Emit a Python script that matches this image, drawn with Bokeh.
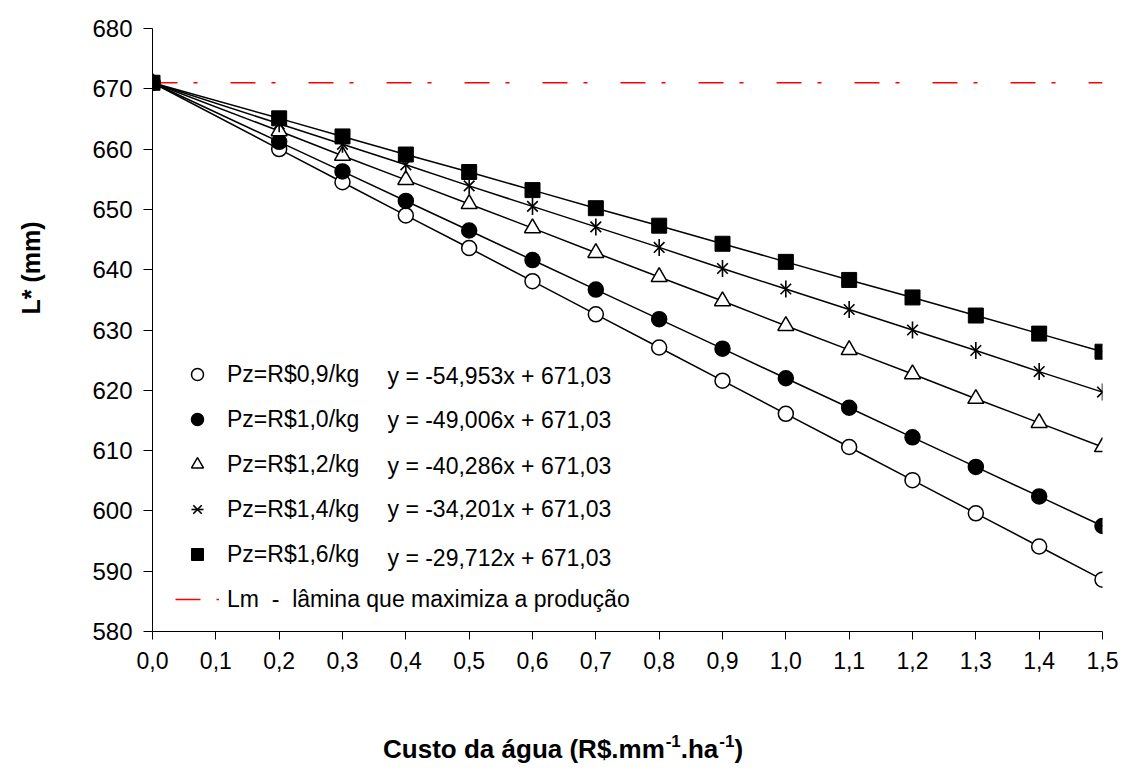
import math
from bokeh.plotting import figure
from bokeh.models import Range1d, FixedTicker, Legend, LegendItem, Label, LinearAxis, AllLabels
from bokeh.embed import file_html
from bokeh.resources import INLINE

# ---------------- data ----------------
custo = [0.0, 0.2, 0.3, 0.4, 0.5, 0.6, 0.7, 0.8, 0.9, 1.0, 1.1, 1.2, 1.3, 1.4, 1.5]

pz_09 = [671.0, 660.0, 654.5, 649.0, 643.6, 638.1, 632.6, 627.1, 621.6, 616.1, 610.6, 605.1, 599.6, 594.1, 588.6]
pz_10 = [671.0, 661.2, 656.3, 651.4, 646.5, 641.6, 636.7, 631.8, 626.9, 622.0, 617.1, 612.2, 607.3, 602.4, 597.5]
pz_12 = [671.0, 663.0, 658.9, 654.9, 650.9, 646.9, 642.8, 638.8, 634.8, 630.7, 626.7, 622.7, 618.6, 614.6, 610.6]
pz_14 = [671.0, 664.2, 660.8, 657.4, 653.9, 650.5, 647.1, 643.7, 640.2, 636.8, 633.4, 630.0, 626.6, 623.1, 619.7]
pz_16 = [671.0, 665.1, 662.1, 659.1, 656.2, 653.2, 650.2, 647.3, 644.3, 641.3, 638.3, 635.4, 632.4, 629.4, 626.4]

lm_x = [0.0, 1.5]
lm_y = [671.0, 671.0]

series_labels = ["Pz=R$0,9/kg", "Pz=R$1,0/kg", "Pz=R$1,2/kg", "Pz=R$1,4/kg", "Pz=R$1,6/kg"]
equations = ["y = -54,953x + 671,03", "y = -49,006x + 671,03", "y = -40,286x + 671,03",
             "y = -34,201x + 671,03", "y = -29,712x + 671,03"]
lm_label = "Lm  -  lâmina que maximiza a produção"

x_ticks = [0.0, 0.1, 0.2, 0.3, 0.4, 0.5, 0.6, 0.7, 0.8, 0.9, 1.0, 1.1, 1.2, 1.3, 1.4, 1.5]
x_tick_labels = ["0,0", "0,1", "0,2", "0,3", "0,4", "0,5", "0,6", "0,7", "0,8", "0,9",
                 "1,0", "1,1", "1,2", "1,3", "1,4", "1,5"]
y_ticks = [580, 590, 600, 610, 620, 630, 640, 650, 660, 670, 680]

x_title_parts = ["Custo da água (R$.mm", "-1", ".ha", "-1", ")"]
y_title = "L* (mm)"

FONT = "Liberation Sans"

# ---------------- layout constants ----------------
W, H = 1119, 770
BL, BR, BT, BB = 151, 17, 28, 139
FRAME_W = W - BL - BR
X_PER_PX = 1.5 / FRAME_W

p = figure(width=W, height=H, output_backend="svg", toolbar_location=None,
           x_range=Range1d(0, 1.5), y_range=Range1d(580, 680),
           min_border_left=BL, min_border_right=BR, min_border_top=BT, min_border_bottom=BB)
p.outline_line_color = None
p.grid.visible = False
p.background_fill_color = "white"
p.border_fill_color = "white"

for ax in (p.xaxis[0], p.yaxis[0]):
    ax.axis_line_color = "black"
    ax.axis_line_width = 1
    ax.major_tick_line_color = "black"
    ax.minor_tick_line_color = None
    ax.major_tick_in = 0
    ax.major_label_text_font = FONT
    ax.major_label_text_color = "black"

p.xaxis.ticker = FixedTicker(ticks=x_ticks)
p.xaxis.major_label_overrides = {t: l for t, l in zip(x_ticks, x_tick_labels)}
p.xaxis.major_tick_out = 8
p.xaxis.major_label_standoff = 12
p.xaxis.major_label_text_font_size = "23px"

p.yaxis.ticker = FixedTicker(ticks=y_ticks)
p.yaxis.major_tick_out = 9
p.yaxis.major_label_standoff = 11
p.yaxis.major_label_text_font_size = "24px"


def title_axis(ticks, overrides, size, standoff, orientation="horizontal"):
    a = LinearAxis(ticker=FixedTicker(ticks=ticks), major_label_overrides=overrides,
                   major_label_policy=AllLabels(), axis_line_color=None,
                   major_tick_line_color=None, minor_tick_line_color=None,
                   major_tick_in=0, major_tick_out=0, minor_tick_in=0, minor_tick_out=0,
                   major_label_standoff=standoff, major_label_orientation=orientation,
                   major_label_text_font=FONT, major_label_text_font_style="bold",
                   major_label_text_font_size=f"{size}px", major_label_text_color="black")
    return a


# x title built from pieces (main text + raised superscripts)
S_MAIN, S_SUP = 26, 17
em_widths = [10.835, 0.889, 1.445, 0.889, 0.333]
sizes = [S_MAIN, S_SUP, S_MAIN, S_SUP, S_MAIN]
cur = 383 - (BL + 1)
main_ticks, main_over, sup_ticks, sup_over = [], {}, [], {}
for part, em, sz in zip(x_title_parts, em_widths, sizes):
    w = em * sz
    c = round((cur + w / 2) * X_PER_PX, 5)
    if sz == S_MAIN:
        main_ticks.append(c)
        main_over[c] = part
    else:
        sup_ticks.append(c)
        sup_over[c] = part
    cur += w + (1 if sz == S_MAIN else 0)

p.add_layout(title_axis(sup_ticks, sup_over, S_SUP, 63), "below")
p.add_layout(title_axis(main_ticks, main_over, S_MAIN, -16), "below")

# y title
y_title_pos = 648
p.add_layout(title_axis([y_title_pos], {y_title_pos: y_title}, 25, 58, math.pi / 2), "left")

# reference line
lm_r = p.line(lm_x, lm_y, line_color="#ff0000", line_width=1.5, line_dash="25 16 4 33")

# series lines
for ys in (pz_09, pz_10, pz_12, pz_14, pz_16):
    p.line(custo, ys, line_color="black", line_width=1.5)

r09 = p.scatter(custo, pz_09, marker="circle", size=15, fill_color="white", line_color="black", line_width=1.5)
r10 = p.scatter(custo, pz_10, marker="circle", size=15, fill_color="black", line_color="black", line_width=1.5)
r12 = p.scatter(custo, pz_12, marker="triangle", size=16, fill_color="white", line_color="black", line_width=1.5)
r14a = p.scatter(custo, pz_14, marker="x", size=15, line_color="black", line_width=1.6)
r14b = p.scatter(custo, pz_14, marker="dash", angle=math.pi / 2, size=17, line_color="black", line_width=1.6)
r16 = p.scatter(custo, pz_16, marker="square", size=15, fill_color="black", line_color="black", line_width=1)

legend = Legend(items=[
    LegendItem(label=series_labels[0], renderers=[r09]),
    LegendItem(label=series_labels[1], renderers=[r10]),
    LegendItem(label=series_labels[2], renderers=[r12]),
    LegendItem(label=series_labels[3], renderers=[r14a, r14b]),
    LegendItem(label=series_labels[4], renderers=[r16]),
    LegendItem(label=lm_label, renderers=[lm_r]),
], location=(23, 17))
legend.padding = 0
legend.margin = 0
legend.border_line_color = None
legend.background_fill_alpha = 0
legend.glyph_width = 44
legend.glyph_height = 30
legend.label_height = 30
legend.spacing = 15
legend.label_standoff = 8
legend.label_text_font = FONT
legend.label_text_font_size = "23px"
legend.label_text_color = "black"
p.add_layout(legend, "center")

# equations (frame-relative screen coordinates, y upward)
eq_y = [256, 212, 166, 123, 74]
for txt, yy in zip(equations, eq_y):
    p.add_layout(Label(x=235, y=yy, x_units="screen", y_units="screen", text=txt,
                       text_font=FONT, text_font_size="23px", text_color="black",
                       text_baseline="middle", text_align="left"))

open("out.html", "w").write(file_html(p, INLINE))
